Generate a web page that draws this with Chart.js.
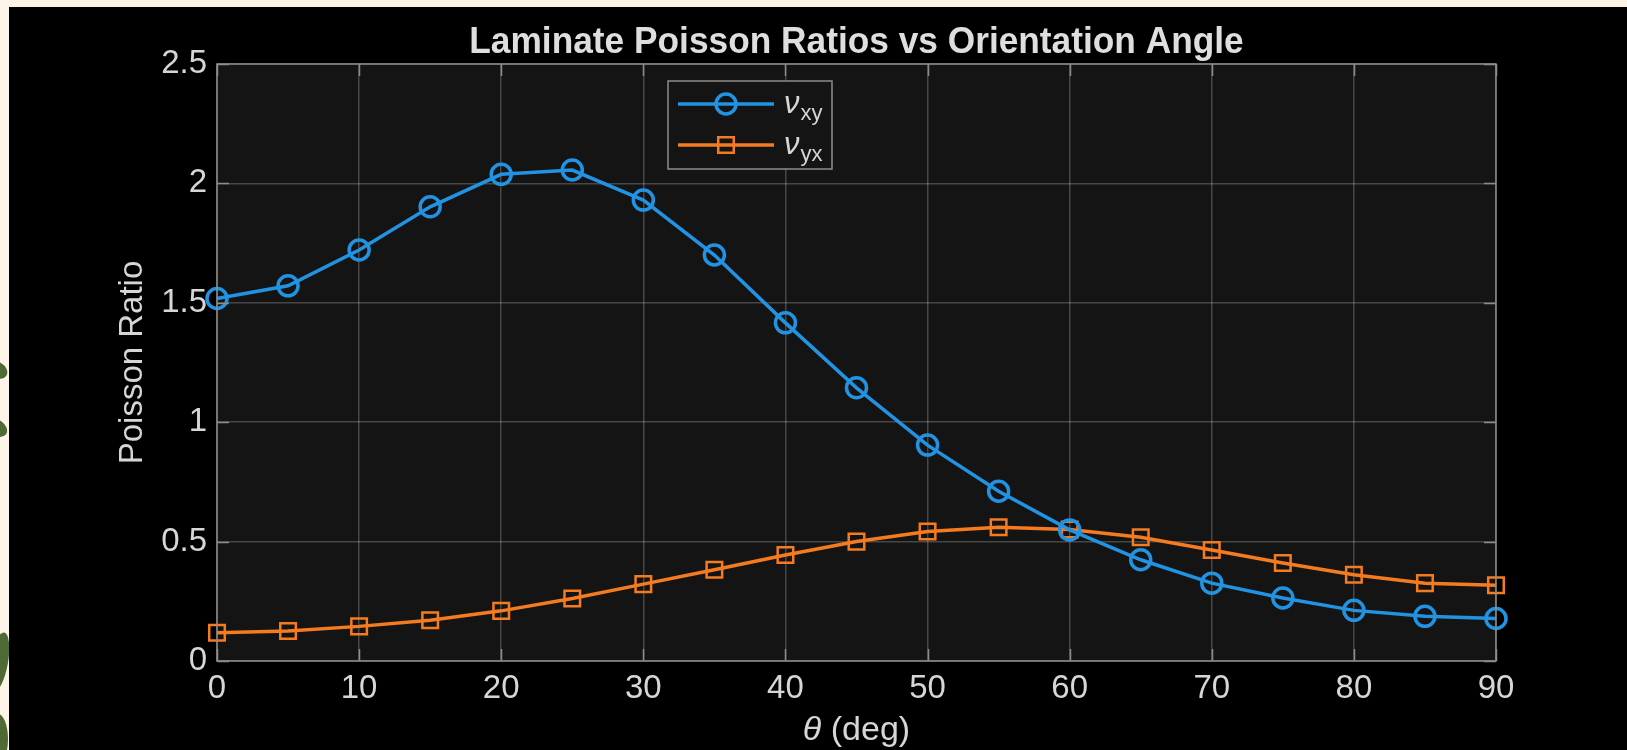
<!DOCTYPE html>
<html>
<head>
<meta charset="utf-8">
<script src="https://cdn.jsdelivr.net/npm/chart.js@4/dist/chart.umd.min.js"></script>
<style>
  html, body { margin: 0; padding: 0; width: 1627px; height: 750px; overflow: hidden; background: #fcf4e6; }
  .leaf { position: absolute; background: #4f6a35; border-radius: 50%; }
  #wrap { position: absolute; left: 9px; top: 7px; width: 1618px; height: 743px; background: #000; }
</style>
</head>
<body>
<div class="leaf" style="left:-14px; top:362px; width:22px; height:16px; transform:rotate(30deg);"></div>
<div class="leaf" style="left:-14px; top:420px; width:22px; height:16px; transform:rotate(35deg);"></div>
<div class="leaf" style="left:-10px; top:632px; width:18px; height:60px; transform:rotate(10deg);"></div>
<div class="leaf" style="left:-12px; top:714px; width:20px; height:50px;"></div>
<div id="wrap"><canvas id="c"></canvas></div>
<script>
// ---- data ----
const angles = [0, 5, 10, 15, 20, 25, 30, 35, 40, 45, 50, 55, 60, 65, 70, 75, 80, 85, 90];
const nuXY = [1.518, 1.571, 1.721, 1.902, 2.038, 2.056, 1.930, 1.700, 1.416, 1.144, 0.904, 0.711, 0.549, 0.424, 0.326, 0.264, 0.212, 0.187, 0.178];
const nuYX = [0.118, 0.126, 0.145, 0.171, 0.210, 0.262, 0.322, 0.382, 0.444, 0.500, 0.542, 0.560, 0.551, 0.518, 0.465, 0.410, 0.361, 0.326, 0.317];
const seriesBase = ['ν', 'ν'];
const seriesSub = ['xy', 'yx'];
const xTicks = [0, 10, 20, 30, 40, 50, 60, 70, 80, 90];
const yTicks = [0, 0.5, 1, 1.5, 2, 2.5];
const titleText = 'Laminate Poisson Ratios vs Orientation Angle';
const yTitle = 'Poisson Ratio';

const FONT = '"Liberation Sans", Arial, Helvetica, sans-serif';
const TXT = '#d6d6d6';
const AXC = '#8c8c8c';
const GRID = 'rgba(255,255,255,0.22)';
const BLUE = '#2293e3';
const ORANGE = '#f57b21';

const toPts = (ys) => angles.map((a, i) => ({ x: a, y: ys[i] }));

const decor = {
  id: 'decor',
  beforeDraw(chart) {
    const { ctx, chartArea: a } = chart;
    ctx.save();
    ctx.fillStyle = '#141414';
    ctx.fillRect(a.left, a.top, a.right - a.left, a.bottom - a.top);
    ctx.restore();
  },
  afterDatasetsDraw(chart) {
    const { ctx, chartArea: a, scales } = chart;
    ctx.save();
    // box
    ctx.strokeStyle = AXC;
    ctx.lineWidth = 1.5;
    ctx.strokeRect(a.left, a.top, a.right - a.left, a.bottom - a.top);
    // inward ticks
    const L = 12;
    ctx.beginPath();
    xTicks.forEach(v => {
      const px = Math.round(scales.x.getPixelForValue(v)) + 0.5;
      ctx.moveTo(px, a.bottom); ctx.lineTo(px, a.bottom - L);
      ctx.moveTo(px, a.top); ctx.lineTo(px, a.top + L);
    });
    yTicks.forEach(v => {
      const py = Math.round(scales.y.getPixelForValue(v)) + 0.5;
      ctx.moveTo(a.left, py); ctx.lineTo(a.left + L, py);
      ctx.moveTo(a.right, py); ctx.lineTo(a.right - L, py);
    });
    ctx.stroke();

    // title
    ctx.fillStyle = '#dedede';
    ctx.textAlign = 'center';
    ctx.textBaseline = 'middle';
    const cx = (a.left + a.right) / 2;
    ctx.save();
    ctx.translate(cx, 36);
    ctx.scale(0.98, 1.05);
    ctx.font = 'bold 36px ' + FONT;
    ctx.fillText(titleText, 0, 0);
    ctx.restore();

    // x axis title: italic theta + " (deg)"
    ctx.fillStyle = TXT;
    ctx.textAlign = 'left';
    ctx.textBaseline = 'middle';
    ctx.font = 'italic 34px ' + FONT;
    const t1 = 'θ';
    const w1 = ctx.measureText(t1).width;
    ctx.font = '34px ' + FONT;
    const t2 = ' (deg)';
    const w2 = ctx.measureText(t2).width;
    const sx = cx - (w1 + w2) / 2;
    const ty = 724;
    ctx.font = 'italic 34px ' + FONT;
    ctx.fillText(t1, sx, ty);
    ctx.font = '34px ' + FONT;
    ctx.fillText(t2, sx + w1, ty);

    // legend
    const bx = 659, by = 74, bw = 164, bh = 88;
    ctx.fillStyle = '#141414';
    ctx.fillRect(bx, by, bw, bh);
    ctx.strokeStyle = AXC;
    ctx.lineWidth = 1.5;
    ctx.strokeRect(bx, by, bw, bh);
    chart.data.datasets.forEach((ds, i) => {
      const ry = by + 23 + i * 41;
      ctx.strokeStyle = ds.borderColor;
      ctx.lineWidth = ds.borderWidth;
      ctx.beginPath();
      ctx.moveTo(bx + 10, ry); ctx.lineTo(bx + 106, ry);
      ctx.stroke();
      ctx.fillStyle = 'rgba(0,0,0,0)';
      ctx.strokeStyle = ds.pointBorderColor;
      ctx.lineWidth = ds.pointBorderWidth;
      Chart.helpers.drawPoint(ctx, { pointStyle: ds.pointStyle, radius: ds.pointRadius, borderWidth: ds.pointBorderWidth, rotation: 0 }, bx + 58, ry);
      ctx.fillStyle = TXT;
      ctx.textBaseline = 'alphabetic';
      ctx.font = 'italic 31px ' + FONT;
      ctx.fillText(seriesBase[i], bx + 116, ry + 9);
      const wb = ctx.measureText(seriesBase[i]).width;
      ctx.font = '22px ' + FONT;
      ctx.fillText(seriesSub[i], bx + 117 + wb, ry + 16);
    });
    ctx.restore();
  }
};

new Chart(document.getElementById('c'), {
  type: 'line',
  data: {
    datasets: [
      {
        label: 'ν_xy', data: toPts(nuXY), borderColor: BLUE, backgroundColor: 'rgba(0,0,0,0)',
        borderWidth: 3.5, pointStyle: 'circle', pointRadius: 10, pointBorderWidth: 3.5,
        pointBackgroundColor: 'rgba(0,0,0,0)', pointBorderColor: BLUE, tension: 0, clip: false
      },
      {
        label: 'ν_yx', data: toPts(nuYX), borderColor: ORANGE, backgroundColor: 'rgba(0,0,0,0)',
        borderWidth: 3.5, pointStyle: 'rect', pointRadius: 11, pointBorderWidth: 2.5,
        pointBackgroundColor: 'rgba(0,0,0,0)', pointBorderColor: ORANGE, tension: 0, clip: false
      }
    ]
  },
  options: {
    responsive: true,
    maintainAspectRatio: false,
    devicePixelRatio: 1,
    animation: false,
    layout: { padding: { top: 57, right: 131, left: 0, bottom: 0 } },
    plugins: { legend: { display: false }, title: { display: false }, tooltip: { enabled: false } },
    scales: {
      x: {
        type: 'linear', min: 0, max: 90,
        afterFit: (s) => { s.height = 89; },
        afterBuildTicks: (s) => { s.ticks = xTicks.map(v => ({ value: v })); },
        ticks: { color: TXT, font: { family: FONT, size: 33 }, padding: 8, maxRotation: 0,
                 callback: (v) => String(v) },
        grid: { color: GRID, drawTicks: false, lineWidth: 1.5 },
        border: { display: false }
      },
      y: {
        type: 'linear', min: 0, max: 2.5,
        afterFit: (s) => { s.width = 208; },
        afterBuildTicks: (s) => { s.ticks = yTicks.map(v => ({ value: v })); },
        ticks: { color: TXT, font: { family: FONT, size: 33 }, padding: 10,
                 callback: (v) => String(v) },
        grid: { color: GRID, drawTicks: false, lineWidth: 1.5 },
        border: { display: false },
        title: { display: true, text: yTitle, color: TXT, font: { family: FONT, size: 33 }, padding: { top: 104 } }
      }
    }
  },
  plugins: [decor]
});
</script>
</body>
</html>
